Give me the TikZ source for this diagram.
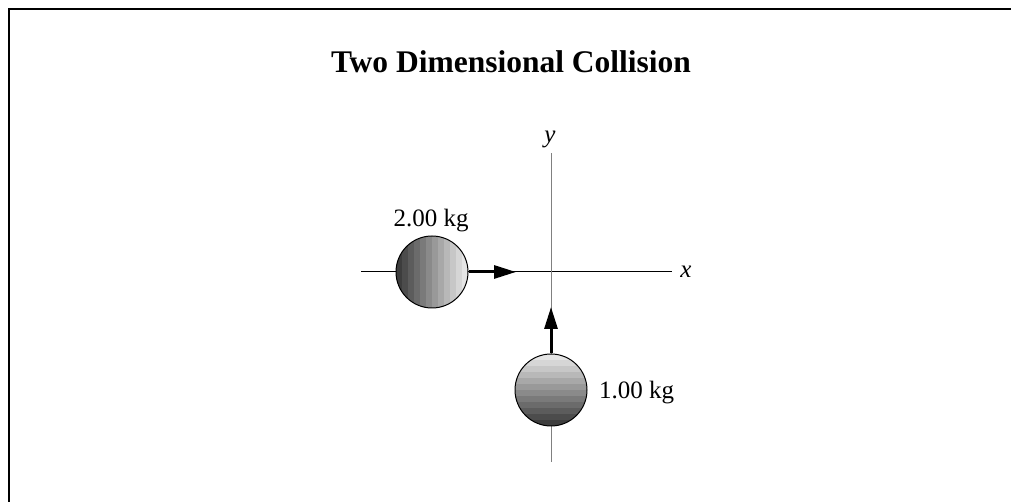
\documentclass[tikz,border=0pt]{standalone}
\usepackage{fontspec}
\setmainfont{Liberation Serif}
\usetikzlibrary{arrows.meta}
\begin{document}
\begin{tikzpicture}[x=1pt,y=1pt,
  ballh/.style={circle,draw,line width=1pt,minimum size=72pt,inner sep=0pt,
    path picture={\foreach \i in {0,...,11}{\pgfmathsetmacro\p{76-6*\i}
      \fill[black!\p] ([xshift={\i*6pt}]path picture bounding box.south west) rectangle ++(6.4pt,80pt);}}},
  ballv/.style={circle,draw,line width=1pt,minimum size=72pt,inner sep=0pt,
    path picture={\foreach \i in {0,...,11}{\pgfmathsetmacro\p{76-6*\i}
      \fill[black!\p] ([yshift={\i*6pt}]path picture bounding box.south west) rectangle ++(80pt,6.4pt);}}},
  vel/.style={line width=3pt,-{Triangle[length=22pt,width=13pt]}},
  axis/.style={line width=1pt},
  lbl/.style={font=\fontsize{25}{25}\selectfont,inner sep=0pt}
]
\useasboundingbox (0,0) rectangle (1011,502);
% frame
\draw[line width=2pt] (8.5,0) -- (8.5,493) -- (1011,493);
% title
\node[font=\bfseries\fontsize{31.5}{31.5}\selectfont,anchor=base,inner sep=0pt] (title) at (511,429) {Two Dimensional Collision};
% axes
\coordinate (xl) at (361,230);
\coordinate (xr) at (672,230);
\coordinate (yt) at (551,349);
\coordinate (yb) at (551,40);
\draw[axis] (xl) -- (xr);
\draw[axis,gray] (yb) -- (yt);
\node[lbl,anchor=base] (xlab) at (686,224) {\itshape x};
\node[lbl,anchor=base] (ylab) at (550,359) {\itshape y};
% balls
\node[ballh] (b1) at (432,230) {};
\node[ballv] (b2) at (551,112) {};
\coordinate (t1) at (516,230);
\coordinate (t2) at (551,195);
\draw[vel] (b1.east) -- (t1);
\draw[vel] (b2.north) -- (t2);
\node[lbl,anchor=base] (m1) at (431,275) {2.00 kg};
\node[lbl,anchor=base west] (m2) at (599,103) {1.00 kg};
\end{tikzpicture}
\end{document}
